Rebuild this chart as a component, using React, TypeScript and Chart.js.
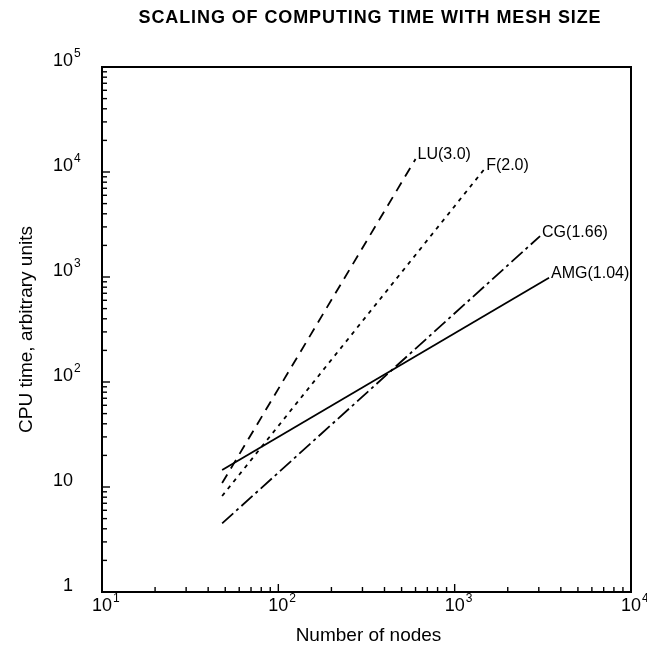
import { useEffect, useRef } from 'react';
import { Chart, registerables } from 'chart.js';

Chart.register(...registerables);

// ---- data ----
const chartTitle = 'SCALING OF COMPUTING TIME WITH MESH SIZE';
const xAxisTitle = 'Number of nodes';
const yAxisTitle = 'CPU time, arbitrary units';

const seriesNames = ['LU(3.0)', 'F(2.0)', 'CG(1.66)', 'AMG(1.04)'];
const luNodes = [48, 600];
const luTime = [10.9, 13300];
const fNodes = [48, 1470];
const fTime = [8.2, 10600];
const cgNodes = [48, 3050];
const cgTime = [4.5, 2450];
const amgNodes = [48, 3430];
const amgTime = [14.5, 985];

const xTickValues = [10, 100, 1000, 10000];
const xTickBase = ['10', '10', '10', '10'];
const xTickExp = ['1', '2', '3', '4'];
const yTickValues = [1, 10, 100, 1000, 10000, 100000];
const yTickBase = ['1', '10', '10', '10', '10', '10'];
const yTickExp = ['', '', '2', '3', '4', '5'];

const FONT = '"Liberation Sans", Arial, Helvetica, sans-serif';

function pts(xs: number[], ys: number[]) {
  return xs.map((x, i) => ({ x, y: ys[i] }));
}

const decorPlugin = {
  id: 'decor',
  afterDraw(chart: any) {
    const { ctx, chartArea: a, scales } = chart;
    const xs = scales.x;
    const ys = scales.y;
    ctx.save();
    ctx.strokeStyle = '#000';
    ctx.fillStyle = '#000';
    // frame
    ctx.lineWidth = 2;
    ctx.strokeRect(a.left, a.top, a.right - a.left, a.bottom - a.top);
    // x ticks (inward)
    ctx.lineWidth = 1.4;
    for (let d = 1; d <= 3; d++) {
      for (let k = 1; k <= 9; k++) {
        const v = k * Math.pow(10, d);
        const px = xs.getPixelForValue(v);
        const len = k === 1 ? 8 : 5;
        ctx.beginPath();
        ctx.moveTo(px, a.bottom);
        ctx.lineTo(px, a.bottom - len);
        ctx.stroke();
      }
    }
    // y ticks (inward)
    for (let d = 0; d <= 4; d++) {
      for (let k = 1; k <= 9; k++) {
        const v = k * Math.pow(10, d);
        const py = ys.getPixelForValue(v);
        const len = k === 1 ? 8 : 5;
        ctx.beginPath();
        ctx.moveTo(a.left, py);
        ctx.lineTo(a.left + len, py);
        ctx.stroke();
      }
    }
    // y tick labels
    ctx.textBaseline = 'middle';
    yTickValues.forEach((v, i) => {
      const py = ys.getPixelForValue(v) - 6;
      ctx.font = `18px ${FONT}`;
      if (yTickBase[i] === '1') {
        ctx.textAlign = 'right';
        ctx.fillText('1', 73, py);
        return;
      }
      ctx.textAlign = 'left';
      ctx.fillText(yTickBase[i], 53, py);
      const w = ctx.measureText(yTickBase[i]).width;
      if (yTickExp[i]) {
        ctx.font = `12px ${FONT}`;
        ctx.fillText(yTickExp[i], 53 + w + 1, py - 7);
      }
    });
    // x tick labels
    xTickValues.forEach((v, i) => {
      const px = xs.getPixelForValue(v);
      const py = a.bottom + 14;
      ctx.font = `18px ${FONT}`;
      ctx.textAlign = 'center';
      ctx.fillText(xTickBase[i], px, py);
      const w = ctx.measureText(xTickBase[i]).width;
      ctx.font = `12px ${FONT}`;
      ctx.textAlign = 'left';
      ctx.fillText(xTickExp[i], px + w / 2 + 1, py - 7);
    });
    // series labels at line ends
    ctx.font = `16px ${FONT}`;
    ctx.textAlign = 'left';
    chart.data.datasets.forEach((ds: any) => {
      const last = ds.data[ds.data.length - 1];
      const px = xs.getPixelForValue(last.x);
      const py = ys.getPixelForValue(last.y);
      ctx.fillText(ds.label, px + 2, py - 4);
    });
    // title
    ctx.font = `bold 18px ${FONT}`;
    ctx.textAlign = 'center';
    try { (ctx as any).letterSpacing = '0.9px'; } catch (e) {}
    ctx.fillText(chartTitle, 370, 18);
    try { (ctx as any).letterSpacing = '0px'; } catch (e) {}
    // x axis title
    ctx.font = `19px ${FONT}`;
    ctx.fillText(xAxisTitle, (a.left + a.right) / 2 + 2, 636);
    // y axis title
    ctx.translate(27, (a.top + a.bottom) / 2);
    ctx.rotate(-Math.PI / 2);
    ctx.fillText(yAxisTitle, 0, 0);
    ctx.restore();
  },
};

export default function App() {
  const ref = useRef<HTMLCanvasElement>(null);
  useEffect(() => {
    if (!ref.current) return;
    const chart = new Chart(ref.current, {
      type: 'scatter',
      data: {
        datasets: [
          { label: seriesNames[0], data: pts(luNodes, luTime), borderDash: [10, 7] },
          { label: seriesNames[1], data: pts(fNodes, fTime), borderDash: [4, 5] },
          { label: seriesNames[2], data: pts(cgNodes, cgTime), borderDash: [15, 4, 3, 4] },
          { label: seriesNames[3], data: pts(amgNodes, amgTime), borderDash: [] },
        ].map((d) => ({
          ...d,
          showLine: true,
          borderColor: '#000',
          backgroundColor: '#000',
          borderWidth: 1.8,
          pointRadius: 0,
          pointHoverRadius: 0,
        })),
      },
      options: {
        responsive: false,
        animation: false,
        layout: { padding: { left: 102, top: 67, right: 16, bottom: 60 } },
        plugins: { legend: { display: false }, tooltip: { enabled: false }, title: { display: false } },
        scales: {
          x: { type: 'logarithmic', min: 10, max: 10000, display: false },
          y: { type: 'logarithmic', min: 1, max: 100000, display: false },
        },
      },
      plugins: [decorPlugin],
    });
    return () => chart.destroy();
  }, []);
  return (
    <div style={{ position: 'fixed', left: 0, top: 0, width: 647, height: 652, background: '#fff' }}>
      <canvas ref={ref} width={647} height={652} />
    </div>
  );
}
